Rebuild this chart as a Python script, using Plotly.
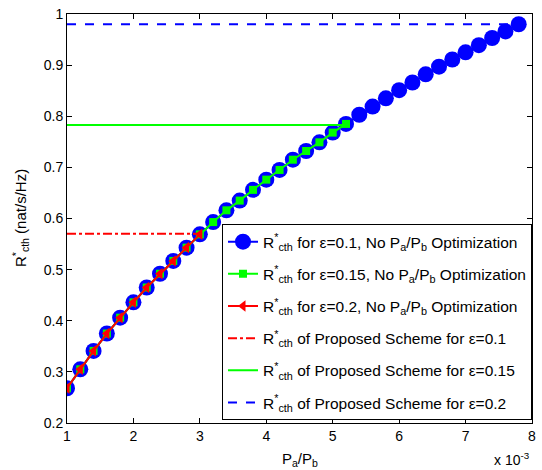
import plotly.graph_objects as go

# P_a/P_b in units of 1e-3
x_eps01 = [1.0, 1.2, 1.4, 1.6, 1.8, 2.0, 2.2, 2.4, 2.6, 2.8, 3.0, 3.2, 3.4, 3.6, 3.8, 4.0, 4.2,
           4.4, 4.6, 4.8, 5.0, 5.2, 5.4, 5.6, 5.8, 6.0, 6.2, 6.4, 6.6, 6.8, 7.0, 7.2, 7.4, 7.6, 7.8]
r_eps01 = [0.268, 0.305, 0.341, 0.375, 0.406, 0.436, 0.465, 0.492, 0.517, 0.543, 0.569, 0.593,
           0.616, 0.635, 0.656, 0.676, 0.695, 0.715, 0.732, 0.749, 0.768, 0.785, 0.803, 0.819,
           0.835, 0.851, 0.866, 0.882, 0.897, 0.911, 0.925, 0.939, 0.953, 0.966, 0.980]
n_eps015 = 22   # points up to P_a/P_b = 5.2e-3
n_eps02 = 11    # points up to P_a/P_b = 3.0e-3
x_eps015 = x_eps01[:n_eps015]
r_eps015 = r_eps01[:n_eps015]
x_eps02 = x_eps01[:n_eps02]
r_eps02 = r_eps01[:n_eps02]

prop_eps01 = 0.570
prop_eps015 = 0.783
prop_eps02 = 0.980

xticks = [1, 2, 3, 4, 5, 6, 7, 8]
yticks = [0.2, 0.3, 0.4, 0.5, 0.6, 0.7, 0.8, 0.9, 1.0]
yticklabels = ["0.2", "0.3", "0.4", "0.5", "0.6", "0.7", "0.8", "0.9", "1"]

R = "R<sup>*</sup><sub>cth</sub>"
BLUE, GREEN, RED = "#0000ff", "#00ff00", "#ff0000"

fig = go.Figure()
fig.add_trace(go.Scatter(x=x_eps01, y=r_eps01, mode="lines+markers", legendgroup="g1",
                         line=dict(color=BLUE, width=2),
                         marker=dict(symbol="circle", size=16, color=BLUE),
                         name=R + " for ε=0.1, No P<sub>a</sub>/P<sub>b</sub> Optimization"))
fig.add_trace(go.Scatter(x=x_eps015, y=r_eps015, mode="lines+markers", legendgroup="g2",
                         line=dict(color=GREEN, width=2),
                         marker=dict(symbol="square", size=8, color=GREEN),
                         name=R + " for ε=0.15, No P<sub>a</sub>/P<sub>b</sub> Optimization"))
fig.add_trace(go.Scatter(x=x_eps02, y=r_eps02, mode="lines+markers", legendgroup="g3",
                         line=dict(color=RED, width=2),
                         marker=dict(symbol="triangle-left", size=10, color=RED),
                         name=R + " for ε=0.2, No P<sub>a</sub>/P<sub>b</sub> Optimization"))
fig.add_trace(go.Scatter(x=[x_eps02[0], x_eps02[-1]], y=[prop_eps01, prop_eps01], mode="lines",
                         legendgroup="g4",
                         line=dict(color=RED, width=2, dash="dashdot"),
                         name=R + " of Proposed Scheme for ε=0.1"))
fig.add_trace(go.Scatter(x=[x_eps015[0], x_eps015[-1]], y=[prop_eps015, prop_eps015], mode="lines",
                         legendgroup="g5",
                         line=dict(color=GREEN, width=2),
                         name=R + " of Proposed Scheme for ε=0.15"))
fig.add_trace(go.Scatter(x=[x_eps01[0], x_eps01[-1]], y=[prop_eps02, prop_eps02], mode="lines",
                         legendgroup="g6",
                         line=dict(color=BLUE, width=2, dash="dash"),
                         name=R + " of Proposed Scheme for ε=0.2"))

axis_common = dict(showgrid=False, zeroline=False, showline=True, linecolor="black",
                   linewidth=1, mirror="ticks", ticks="inside", ticklen=5,
                   tickcolor="black", tickfont=dict(size=14, color="black"))
fig.update_xaxes(range=[1, 8], tickvals=xticks, ticktext=[str(v) for v in xticks], **axis_common)
fig.update_yaxes(range=[0.2, 1.0], tickvals=yticks, ticktext=yticklabels, **axis_common)

fig.update_layout(
    width=542, height=470,
    margin=dict(l=67, r=6, t=11, b=47),
    plot_bgcolor="white", paper_bgcolor="white",
    font=dict(family="Liberation Sans, Arial, sans-serif", color="black"),
    showlegend=True,
    legend=dict(x=1, y=0.007, xanchor="right", yanchor="bottom",
                bgcolor="white", bordercolor="black", borderwidth=1,
                font=dict(size=15.5), tracegroupgap=9, traceorder="grouped"),
    annotations=[
        dict(text="P<sub>a</sub>/P<sub>b</sub>", x=0.5, y=-0.062, xref="paper", yref="paper",
             xanchor="center", yanchor="top", showarrow=False, font=dict(size=15)),
        dict(text="x 10<sup>-3</sup>", x=1.0, y=-0.062, xref="paper", yref="paper",
             xanchor="right", yanchor="top", showarrow=False, font=dict(size=14)),
        dict(text="R<sup>*</sup><sub>cth</sub> (nat/s/Hz)", x=-0.10, y=0.5, xref="paper",
             yref="paper", xanchor="center", yanchor="middle", textangle=-90,
             showarrow=False, font=dict(size=15)),
    ],
)

fig.write_html("out.html")
